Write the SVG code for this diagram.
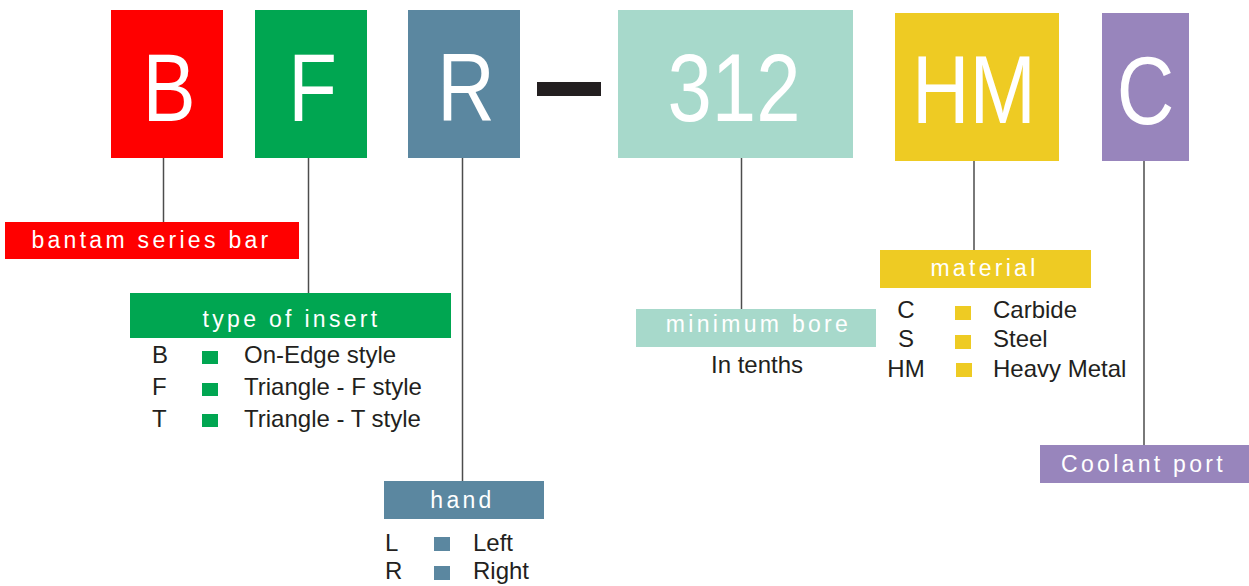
<svg xmlns="http://www.w3.org/2000/svg" width="1249" height="586" viewBox="0 0 1249 586">
<style>
.big{font-family:"Liberation Sans",Arial,sans-serif;font-size:96px;fill:#fff;text-anchor:middle}
.lbl{font-family:"Liberation Sans",Arial,sans-serif;font-size:23px;fill:#fff;text-anchor:middle;letter-spacing:3.3px}
.txt{font-family:"Liberation Sans",Arial,sans-serif;font-size:24px;fill:#231F20}
.mid{text-anchor:middle}
.conn line{stroke:#4d4d4d;stroke-width:1.5}
.red{fill:#FF0000}.grn{fill:#00A651}.blu{fill:#5B87A0}.tea{fill:#A7D9CB}.yel{fill:#EECB23}.pur{fill:#9885BC}
</style>
<rect x="0" y="0" width="1249" height="586" fill="#fff"/>
<g class="conn" id="connectors">
<line x1="163.5" y1="158" x2="163.5" y2="222"/>
<line x1="308.5" y1="158" x2="308.5" y2="293"/>
<line x1="462.5" y1="158" x2="462.5" y2="481"/>
<line x1="741.5" y1="158" x2="741.5" y2="309"/>
<line x1="974" y1="161" x2="974" y2="250"/>
<line x1="1144" y1="161" x2="1144" y2="445"/>
</g>
<g id="node-B">
<rect class="red" x="111" y="10" width="112" height="148"/>
<text class="big" transform="translate(169,121) scale(0.83,1)">B</text>
</g>
<g id="node-F">
<rect class="grn" x="255" y="10" width="112" height="148"/>
<text class="big" transform="translate(312.5,121) scale(0.83,1)">F</text>
</g>
<g id="node-R">
<rect class="blu" x="408" y="10" width="112" height="148"/>
<text class="big" transform="translate(466,121) scale(0.83,1)">R</text>
</g>
<g id="dash">
<rect x="537" y="82" width="64" height="14" fill="#231F20"/>
</g>
<g id="node-312">
<rect class="tea" x="618" y="10" width="235" height="148"/>
<text class="big" transform="translate(734,121) scale(0.83,1)">312</text>
</g>
<g id="node-HM">
<rect class="yel" x="895" y="13" width="164" height="148"/>
<text class="big" transform="translate(974,122.5) scale(0.83,1)">HM</text>
</g>
<g id="node-C">
<rect class="pur" x="1102" y="13" width="87" height="148"/>
<text class="big" transform="translate(1145.5,123.5) scale(0.83,1)">C</text>
</g>
<g id="label-bantam">
<rect class="red" x="5" y="222" width="294" height="37"/>
<text class="lbl" x="151.5" y="248">bantam series bar</text>
</g>
<g id="label-type">
<rect class="grn" x="130" y="293" width="321" height="45"/>
<text class="lbl" x="291.5" y="327">type of insert</text>
<text class="txt" x="152" y="363">B</text>
<text class="txt" x="152" y="395">F</text>
<text class="txt" x="152" y="427">T</text>
<rect class="grn" x="202" y="351" width="16" height="13"/>
<rect class="grn" x="202" y="383" width="16" height="13"/>
<rect class="grn" x="202" y="414" width="16" height="13"/>
<text class="txt" x="244" y="363">On-Edge style</text>
<text class="txt" x="244" y="395">Triangle - F style</text>
<text class="txt" x="244" y="427">Triangle - T style</text>
</g>
<g id="label-hand">
<rect class="blu" x="384" y="481" width="160" height="38"/>
<text class="lbl" x="462.5" y="508">hand</text>
<text class="txt" x="385" y="551">L</text>
<text class="txt" x="385" y="579">R</text>
<rect class="blu" x="434" y="537" width="16" height="14"/>
<rect class="blu" x="434" y="566" width="16" height="14"/>
<text class="txt" x="473" y="551">Left</text>
<text class="txt" x="473" y="579">Right</text>
</g>
<g id="label-bore">
<rect class="tea" x="636" y="309" width="240" height="38"/>
<text class="lbl" x="758.5" y="332">minimum bore</text>
<text class="txt mid" x="757" y="373">In tenths</text>
</g>
<g id="label-material">
<rect class="yel" x="880" y="250" width="211" height="38"/>
<text class="lbl" x="984.5" y="276">material</text>
<text class="txt mid" x="906" y="318">C</text>
<text class="txt mid" x="906" y="347">S</text>
<text class="txt mid" x="906" y="377">HM</text>
<rect class="yel" x="955" y="306" width="16" height="14"/>
<rect class="yel" x="955" y="335" width="16" height="14"/>
<rect class="yel" x="956" y="363" width="16" height="14"/>
<text class="txt" x="993" y="318">Carbide</text>
<text class="txt" x="993" y="347">Steel</text>
<text class="txt" x="993" y="377">Heavy Metal</text>
</g>
<g id="label-coolant">
<rect class="pur" x="1040" y="445" width="209" height="38"/>
<text class="lbl" x="1143.5" y="472">Coolant port</text>
</g>
</svg>
